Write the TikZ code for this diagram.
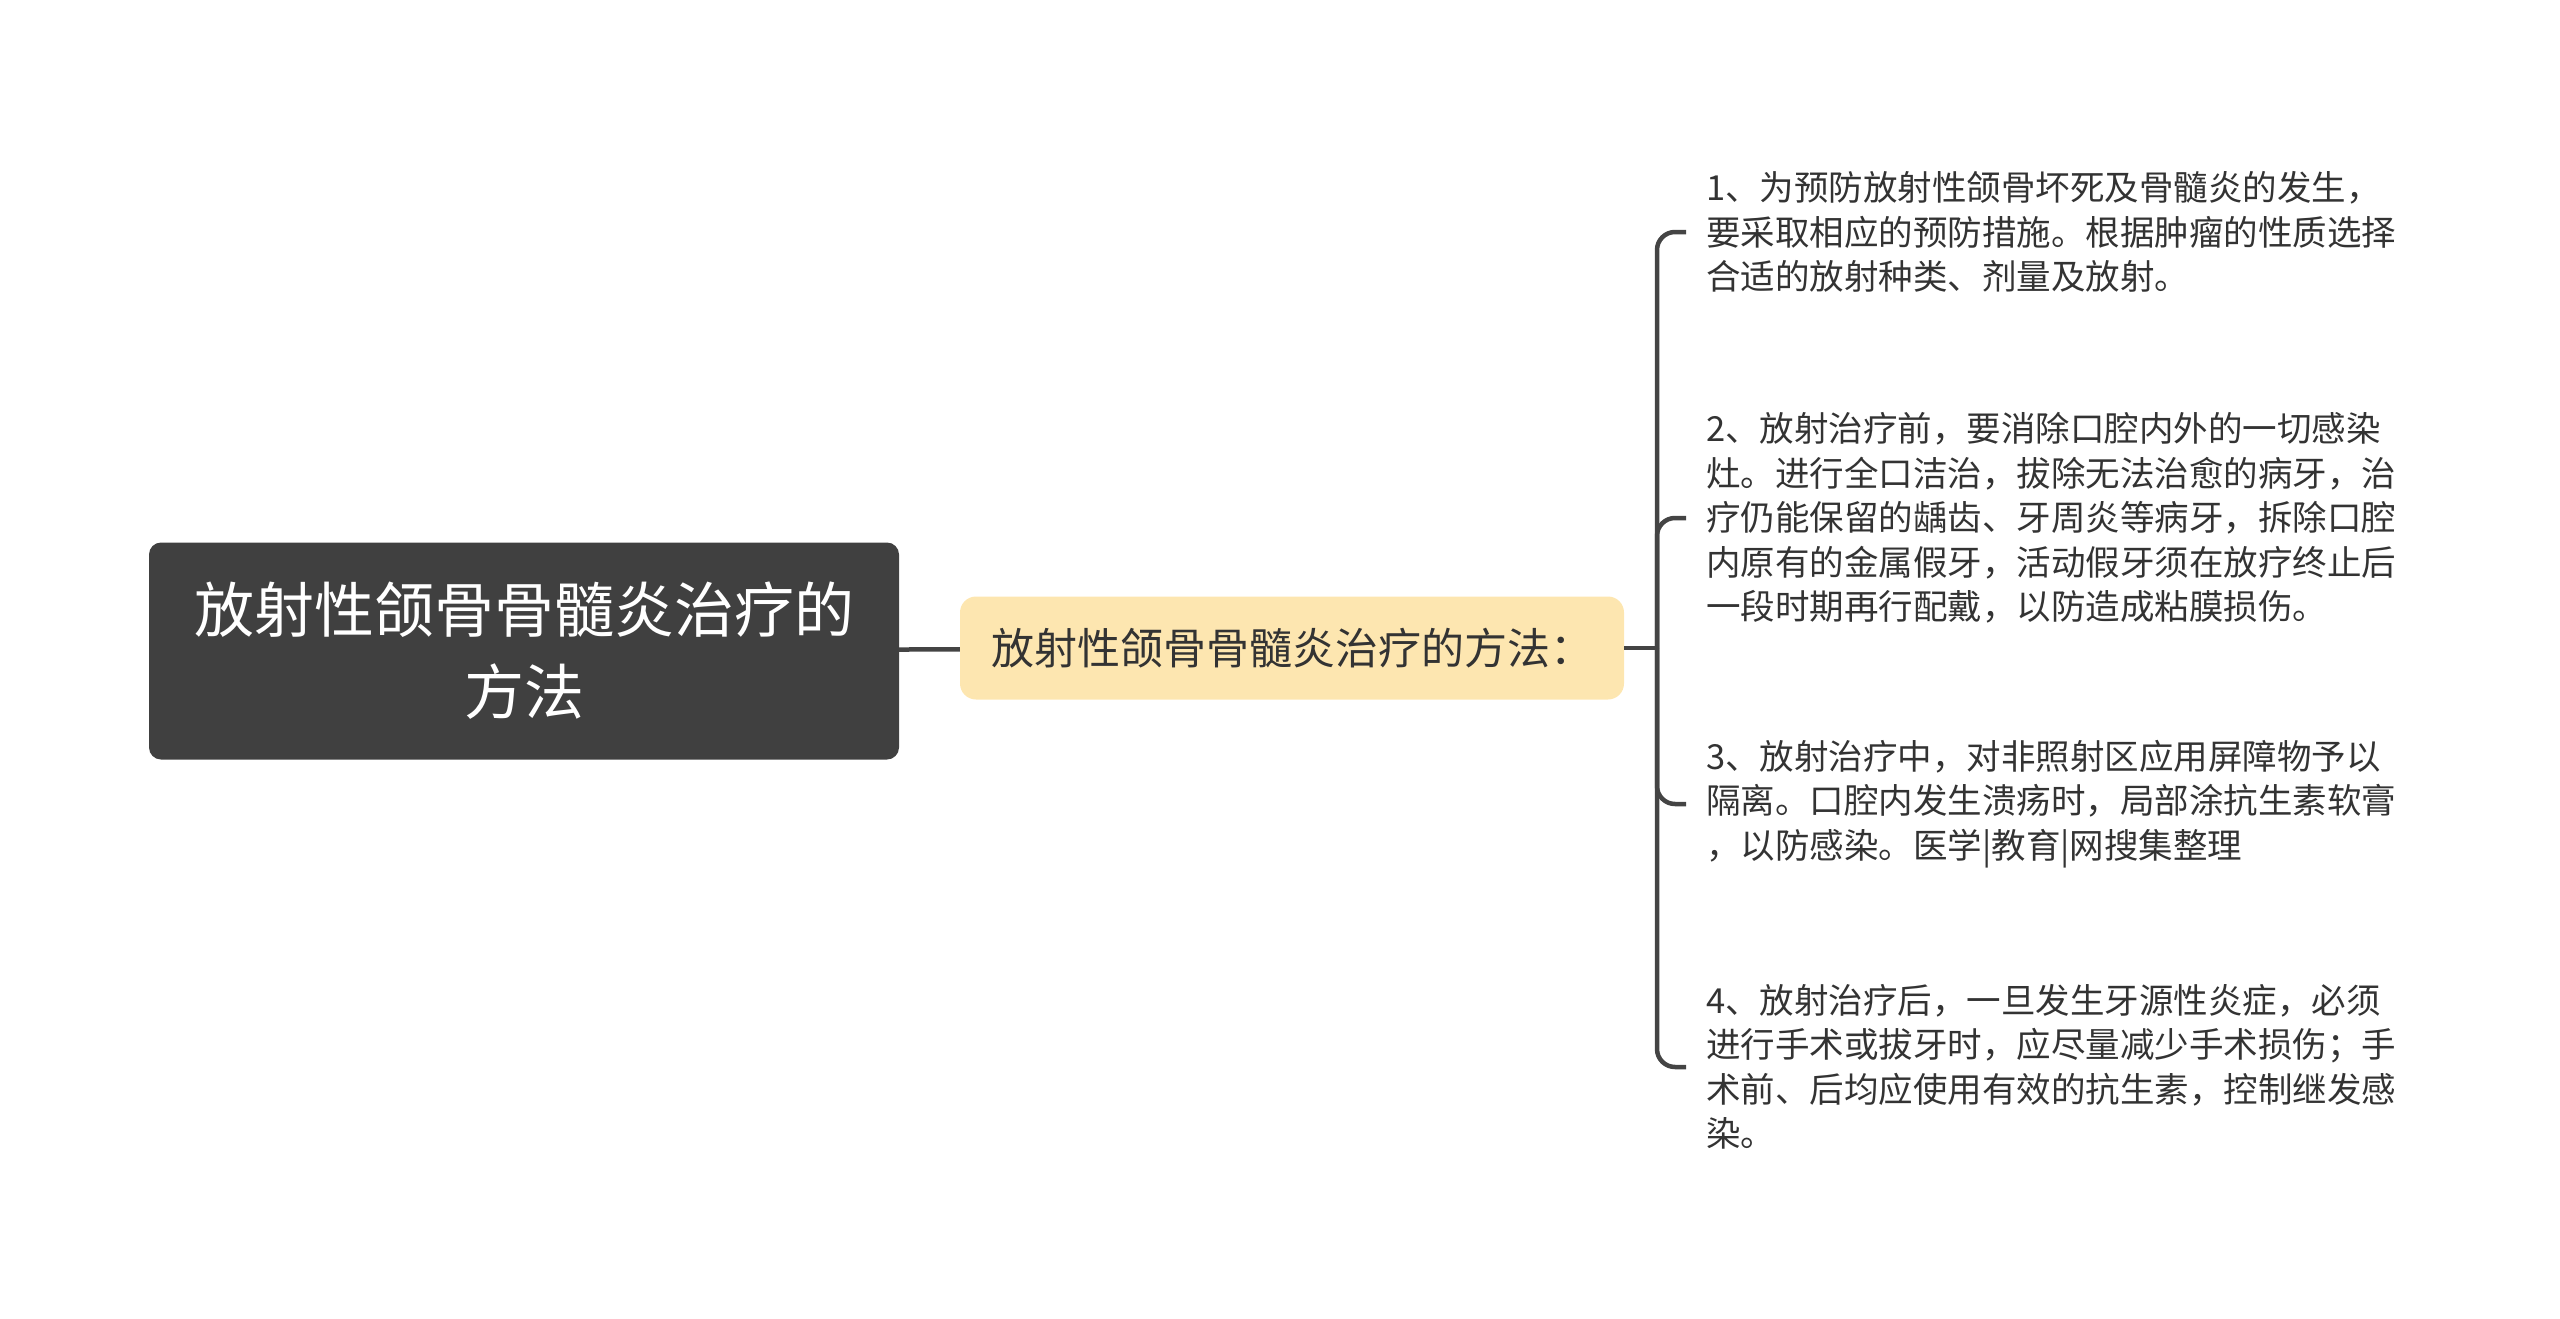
\documentclass[tikz,border=0pt]{standalone}
\usepackage{fontspec}
\newfontfamily\cjk{Noto Sans CJK SC}
\usetikzlibrary{positioning}

\definecolor{rootgray}{HTML}{404040}
\definecolor{subyellow}{HTML}{FDE6B0}
\definecolor{linkgray}{HTML}{444444}
\definecolor{textgray}{HTML}{333333}

\begin{document}
\begin{tikzpicture}[
    % GLOBAL CFG
    x=1pt, y=-1pt,
    font=\cjk,
    % Styles
    root/.style={% For the main topic
        rectangle,
        rounded corners=12pt,
        fill=rootgray,
        text=white,
        align=center,
        minimum width=750pt,
        minimum height=217pt,
        font=\cjk\fontsize{60}{82}\selectfont,
        },
    subtopic/.style={% For the yellow box
        rectangle,
        rounded corners=16pt,
        fill=subyellow,
        text=textgray,
        minimum width=664pt,
        minimum height=103pt,
        font=\cjk\fontsize{43}{50}\selectfont,
        },
    leaf/.style={% For the long texts on the right
        anchor=west,
        align=left,
        text=textgray,
        inner xsep=20pt,
        inner ysep=0pt,
        font=\cjk\fontsize{34.5}{44.5}\selectfont,
        },
    link/.style={% Connectors
        draw=linkgray,
        line width=4.5pt,
        },
    ]

    % Page size
    \useasboundingbox (0,0) rectangle (2560,1319);

    % Draw the topics
    \node [root] (root) at (524,651) {放射性颌骨骨髓炎治疗的\\方法};
    \node [subtopic] (methods) at (1292,648) {放射性颌骨骨髓炎治疗的方法：};

    % Draw the leaves
    \node [leaf] (leaf1) at (1686,232) {1、为预防放射性颌骨坏死及骨髓炎的发生，\\要采取相应的预防措施。根据肿瘤的性质选择\\合适的放射种类、剂量及放射。};
    \node [leaf] (leaf2) at (1686,518) {2、放射治疗前，要消除口腔内外的一切感染\\灶。进行全口洁治，拔除无法治愈的病牙，治\\疗仍能保留的龋齿、牙周炎等病牙，拆除口腔\\内原有的金属假牙，活动假牙须在放疗终止后\\一段时期再行配戴，以防造成粘膜损伤。};
    \node [leaf] (leaf3) at (1686,804) {3、放射治疗中，对非照射区应用屏障物予以\\隔离。口腔内发生溃疡时，局部涂抗生素软膏\\，以防感染。医学|教育|网搜集整理};
    \node [leaf] (leaf4) at (1686,1067) {4、放射治疗后，一旦发生牙源性炎症，必须\\进行手术或拔牙时，应尽量减少手术损伤；手\\术前、后均应使用有效的抗生素，控制继发感\\染。};

    % Hub of the bracket
    \coordinate (hub) at (1657,648);

% Start connecting all.
    \draw [link] (root) -- (methods);
    \draw [link] (methods) -- (hub);
    \foreach \n in {1,...,4}
        \draw [link, rounded corners=18pt] (hub) |- (leaf\n.west);

\end{tikzpicture}
\end{document}
